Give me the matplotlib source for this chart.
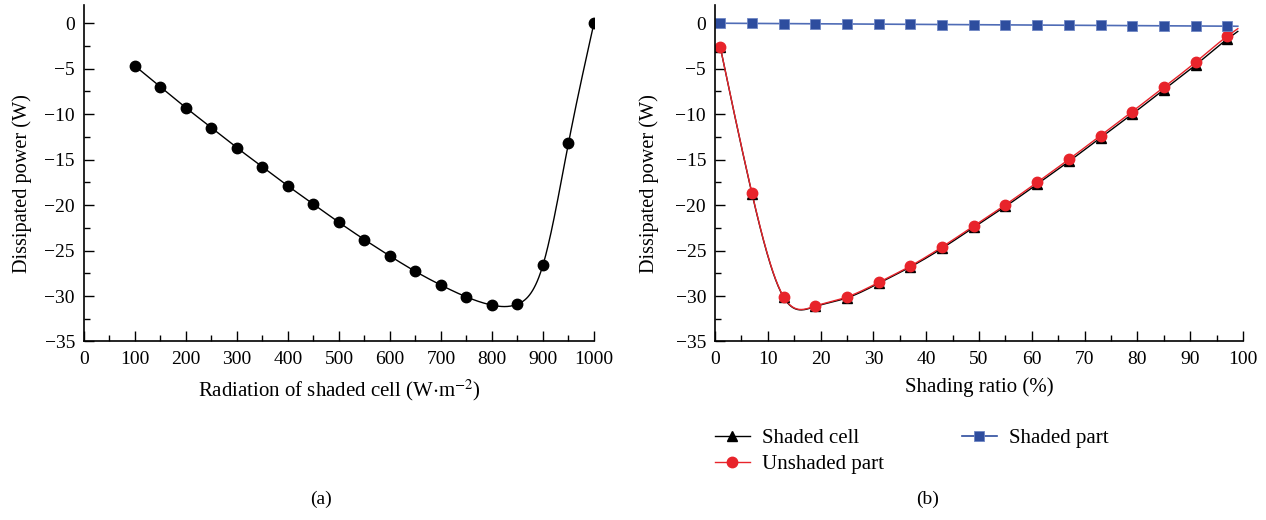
import numpy as np
import matplotlib
matplotlib.use("Agg")
import matplotlib.pyplot as plt
from matplotlib.ticker import MultipleLocator

# ---------------- data ----------------
# (a) dissipated power vs radiation of shaded cell
radiation = [100, 150, 200, 250, 300, 350, 400, 450, 500, 550,
             600, 650, 700, 750, 800, 850, 900, 950, 1000]
power_a = [-4.7, -7.0, -9.3, -11.5, -13.7, -15.8, -17.9, -19.9, -21.9, -23.8,
           -25.6, -27.3, -28.8, -30.1, -31.0, -30.9, -26.6, -13.2, 0.0]

# (b) dissipated power vs shading ratio (last entry = line end, no marker)
shading = [1, 7, 13, 19, 25, 31, 37, 43, 49, 55, 61, 67, 73, 79, 85, 91, 97, 99]
shaded_cell = [-2.65, -18.75, -30.15, -31.15, -30.2, -28.6, -26.8, -24.75, -22.45,
               -20.15, -17.7, -15.2, -12.6, -10.0, -7.3, -4.6, -1.75, -0.9]
unshaded_part = [-2.64, -18.7, -30.1, -31.1, -30.1, -28.5, -26.7, -24.6, -22.3,
                 -19.96, -17.5, -14.97, -12.36, -9.72, -7.04, -4.29, -1.43, -0.6]
shaded_part = [0.0, -0.02, -0.04, -0.06, -0.08, -0.1, -0.12, -0.14, -0.16,
               -0.18, -0.2, -0.22, -0.24, -0.26, -0.28, -0.3, -0.32, -0.33]

legend_labels = ["Shaded cell", "Unshaded part", "Shaded part"]


def natural_spline(x, y, n=600):
    x = np.asarray(x, float)
    y = np.asarray(y, float)
    m = len(x)
    h = np.diff(x)
    A = np.zeros((m, m))
    b = np.zeros(m)
    A[0, 0] = 1
    A[-1, -1] = 1
    for i in range(1, m - 1):
        A[i, i - 1] = h[i - 1]
        A[i, i] = 2 * (h[i - 1] + h[i])
        A[i, i + 1] = h[i]
        b[i] = 6 * ((y[i + 1] - y[i]) / h[i] - (y[i] - y[i - 1]) / h[i - 1])
    M = np.linalg.solve(A, b)
    xs = np.linspace(x[0], x[-1], n)
    idx = np.clip(np.searchsorted(x, xs) - 1, 0, m - 2)
    x0, x1 = x[idx], x[idx + 1]
    hh = x1 - x0
    t0 = x1 - xs
    t1 = xs - x0
    ys = (M[idx] * t0 ** 3 / (6 * hh) + M[idx + 1] * t1 ** 3 / (6 * hh)
          + (y[idx] / hh - M[idx] * hh / 6) * t0
          + (y[idx + 1] / hh - M[idx + 1] * hh / 6) * t1)
    return xs, ys


plt.rcParams['font.family'] = ['Liberation Serif', 'DejaVu Serif']
plt.rcParams['mathtext.fontset'] = 'stix'
FS = 14
FSX = 15
FSY = 14.6

fig = plt.figure(figsize=(12.66, 5.2), dpi=100)
ax1 = fig.add_axes([0.06635, 0.3433, 0.4028, 0.647])
ax2 = fig.add_axes([0.5648, 0.3433, 0.4171, 0.647])


def style(ax):
    for s in ('top', 'right'):
        ax.spines[s].set_visible(False)
    for s in ('left', 'bottom'):
        ax.spines[s].set_linewidth(1.2)
    ax.tick_params(which='both', direction='in', labelsize=FS, width=1.0)
    ax.tick_params(which='major', length=7.5)
    ax.tick_params(which='minor', length=4)
    ax.tick_params(axis='x', which='both', pad=6.5)
    ax.tick_params(axis='y', which='both', pad=6.5)
    ax.yaxis.set_major_locator(MultipleLocator(5))
    ax.yaxis.set_minor_locator(MultipleLocator(2.5))


# (a)
xs, ys = natural_spline(radiation, power_a)
ax1.plot(xs, ys, color='black', lw=1.0)
ax1.plot(radiation, power_a, 'o', color='black', ms=7.5, ls='none')
ax1.set_xlim(0, 1000)
ax1.set_ylim(-35, 2.0)
ax1.xaxis.set_major_locator(MultipleLocator(100))
ax1.xaxis.set_minor_locator(MultipleLocator(50))
style(ax1)
ax1.set_xlabel(r'Radiation of shaded cell (W$\cdot$m$^{-2}$)', fontsize=FSX, labelpad=7)
ax1.set_ylabel('Dissipated power (W)', fontsize=FSY)
ax1.yaxis.set_label_coords(-0.102, 0.47)

# (b)
red = '#e8242b'
blue = '#2e4d9e'
bline = '#4f6cb6'
xs, ys = natural_spline(shading, shaded_cell)
ax2.plot(xs, ys, color='black', lw=1.0)
xs, ys = natural_spline(shading, unshaded_part)
ax2.plot(xs, ys, color=red, lw=1.0)
xs, ys = natural_spline(shading, shaded_part)
ax2.plot(xs, ys, color=bline, lw=1.2)
ax2.plot(shading[:-1], shaded_cell[:-1], '^', color='black', ms=7.5, ls='none')
ax2.plot(shading[:-1], unshaded_part[:-1], 'o', color=red, ms=7.5, ls='none')
ax2.plot(shading[:-1], shaded_part[:-1], 's', color=blue, mec='#6f86c4', mew=0.6,
         ms=7, ls='none')
ax2.set_xlim(0, 100)
ax2.set_ylim(-35, 2.0)
ax2.xaxis.set_major_locator(MultipleLocator(10))
ax2.xaxis.set_minor_locator(MultipleLocator(5))
style(ax2)
ax2.set_xlabel('Shading ratio (%)', fontsize=FSX, labelpad=7)
ax2.set_ylabel('Dissipated power (W)', fontsize=FSY)
ax2.yaxis.set_label_coords(-0.106, 0.47)

h1, = ax2.plot([], [], '-^', color='black', lw=1.0, ms=7.5)
h2, = ax2.plot([], [], '-o', color=red, lw=1.0, ms=7.5)
h3, = ax2.plot([], [], '-s', color=blue, lw=1.2, ms=7, mec='#6f86c4', mew=0.6)
fig.legend([h1, h2, h3], legend_labels, ncol=2, frameon=False, fontsize=15,
           loc='upper left', bbox_to_anchor=(0.560, 0.188), handlelength=1.65,
           columnspacing=3.75, labelspacing=0.3, handletextpad=0.6,
           borderaxespad=0, borderpad=0.3)

fig.text(0.2535, 0.04, '(a)', ha='center', va='center', fontsize=FS)
fig.text(0.733, 0.04, '(b)', ha='center', va='center', fontsize=FS)

fig.savefig('out.png', dpi=100)
